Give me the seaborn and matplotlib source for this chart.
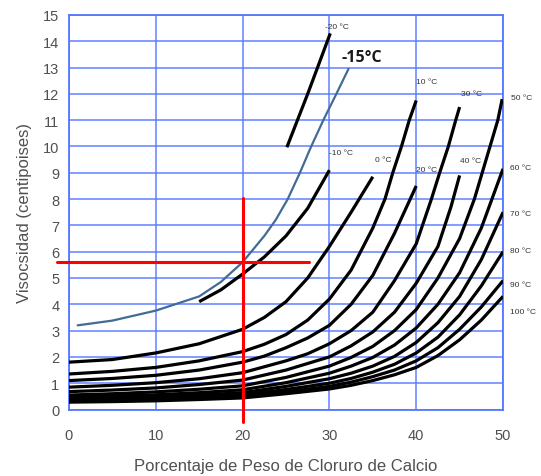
import pandas as pd
import seaborn as sns
import matplotlib.pyplot as plt
from matplotlib.ticker import MultipleLocator

# --- data (x = % CaCl2, y = viscosity cP) ---
x_m20 = [25.1, 27.5, 30.1]
y_m20 = [9.97, 12.0, 14.3]

x_m15 = [1, 5, 10, 15, 17.5, 20, 22.5, 23.8, 25.2, 26.6, 27.9, 29.3, 30.8, 32.2]
y_m15 = [3.2, 3.38, 3.76, 4.3, 4.85, 5.6, 6.6, 7.2, 8.0, 9.0, 10.0, 11.0, 12.0, 12.95]

x_m10 = [15, 17.5, 20, 22.5, 25, 27.5, 30]
y_m10 = [4.1, 4.55, 5.15, 5.8, 6.6, 7.65, 9.1]

x_0 = [0, 5, 10, 15, 20, 22.5, 25, 27.5, 30, 32.5, 35]
y_0 = [1.8, 1.9, 2.15, 2.5, 3.05, 3.5, 4.1, 5.0, 6.2, 7.5, 8.85]

x_10 = [0, 5, 10, 15, 20, 22.5, 25, 27.5, 30, 32.5, 35, 36.4, 37.3, 38.3, 39.2, 40]
y_10 = [1.35, 1.45, 1.6, 1.85, 2.2, 2.48, 2.85, 3.4, 4.2, 5.3, 6.9, 8.0, 9.0, 10.0, 11.0, 11.75]

x_20 = [0, 5, 10, 15, 20, 22.5, 25, 27.5, 30, 32.5, 35, 37.5, 40]
y_20 = [1.1, 1.18, 1.3, 1.5, 1.8, 2.03, 2.35, 2.72, 3.2, 4.0, 5.1, 6.7, 8.5]

x_30 = [0, 5, 10, 15, 20, 25, 27.5, 30, 32.5, 35, 37.5, 40, 41.75, 42.7, 43.7, 44.55, 45]
y_30 = [0.85, 0.92, 1.02, 1.17, 1.4, 1.85, 2.12, 2.5, 3.0, 3.7, 4.9, 6.3, 8.0, 9.0, 10.0, 11.0, 11.5]

x_40 = [0, 5, 10, 15, 20, 25, 30, 32.5, 35, 37.5, 40, 42.5, 44, 45]
y_40 = [0.68, 0.74, 0.82, 0.95, 1.12, 1.5, 2.0, 2.42, 2.95, 3.7, 4.8, 6.2, 7.7, 8.9]

x_50 = [0, 5, 10, 15, 20, 25, 30, 32.5, 35, 37.5, 40, 42.5, 45, 46.7, 47.6, 48.5, 49.4, 49.9]
y_50 = [0.55, 0.6, 0.67, 0.77, 0.9, 1.22, 1.65, 1.98, 2.4, 3.0, 3.8, 5.0, 6.5, 8.0, 9.0, 10.0, 11.0, 11.8]

# the hotter curves all run the full range 0-50 %
x_full = [0, 5, 10, 15, 20, 25, 30, 32.5, 35, 37.5, 40, 42.5, 45, 47.5, 50]
y_60 = [0.47, 0.51, 0.56, 0.64, 0.75, 1.02, 1.38, 1.65, 1.98, 2.45, 3.1, 4.0, 5.2, 6.9, 9.15]
y_70 = [0.40, 0.43, 0.48, 0.55, 0.64, 0.88, 1.17, 1.38, 1.65, 2.02, 2.55, 3.3, 4.3, 5.7, 7.5]
y_80 = [0.35, 0.38, 0.42, 0.48, 0.56, 0.76, 1.0, 1.18, 1.42, 1.72, 2.15, 2.75, 3.6, 4.7, 6.0]
y_90 = [0.31, 0.34, 0.37, 0.42, 0.49, 0.67, 0.88, 1.04, 1.25, 1.5, 1.85, 2.35, 3.05, 3.9, 4.9]
y_100 = [0.28, 0.3, 0.33, 0.38, 0.44, 0.6, 0.78, 0.92, 1.1, 1.32, 1.6, 2.05, 2.65, 3.4, 4.3]

black_curves = [
    ("-20 °C", x_m20, y_m20, (29.5, 14.57)),
    ("-10 °C", x_m10, y_m10, (30.0, 9.78)),
    ("0 °C", x_0, y_0, (35.3, 9.49)),
    ("10 °C", x_10, y_10, (40.0, 12.46)),
    ("20 °C", x_20, y_20, (40.0, 9.14)),
    ("30 °C", x_30, y_30, (45.2, 12.0)),
    ("40 °C", x_40, y_40, (45.1, 9.46)),
    ("50 °C", x_50, y_50, (50.9, 11.87)),
    ("60 °C", x_full, y_60, (50.85, 9.2)),
    ("70 °C", x_full, y_70, (50.85, 7.46)),
    ("80 °C", x_full, y_80, (50.85, 6.04)),
    ("90 °C", x_full, y_90, (50.85, 4.77)),
    ("100 °C", x_full, y_100, (50.85, 3.72)),
]

# reading for 20 % at -15 °C
read_x = 20
read_y = 5.6

grid_blue = "#5577ff"
text_gray = "#505050"

sns.set_style("white")
plt.rcParams['font.family'] = ['Liberation Sans', 'DejaVu Sans']

fig = plt.figure(figsize=(5.41, 4.77), dpi=100)
ax = fig.add_axes([0.1275, 0.1394, 0.8023, 0.8271])

rows = []
for name, xs, ys, _ in black_curves:
    for xv, yv in zip(xs, ys):
        rows.append({"curve": name, "x": xv, "y": yv})
df = pd.DataFrame(rows)

sns.lineplot(data=df, x="x", y="y", units="curve", estimator=None, sort=False,
             color="black", lw=2.3, ax=ax, solid_capstyle="butt", zorder=3)
sns.lineplot(x=x_m15, y=y_m15, color="#426b96", lw=1.6, ax=ax, sort=False, zorder=3)

for name, xs, ys, (tx, ty) in black_curves:
    ax.text(tx, ty, name, fontsize=6, color="#333333", va="center", ha="left",
            clip_on=False)
ax.text(31.4, 13.4, "-15°C", fontsize=11.5, fontweight="bold", color="#1a1a1a",
        va="center", ha="left", family=["Open Sans", "DejaVu Sans"])

# red reading lines
ax.plot([read_x, read_x], [-0.48, 8.04], color="red", lw=2.2, clip_on=False, zorder=4)
ax.plot([-1.4, 27.7], [read_y, read_y], color="red", lw=2.2, clip_on=False, zorder=4)

ax.set_xlim(0, 50)
ax.set_ylim(0, 15)
ax.xaxis.set_major_locator(MultipleLocator(10))
ax.yaxis.set_major_locator(MultipleLocator(1))
ax.grid(True, color=grid_blue, lw=1.2, alpha=0.85)
ax.set_axisbelow(True)
for sp in ax.spines.values():
    sp.set_color(grid_blue)
    sp.set_linewidth(1.3)
ax.tick_params(axis="both", colors=grid_blue, length=4, width=1.1, direction="out",
               labelsize=10.5, labelcolor=text_gray, pad=3)
ax.tick_params(axis="x", pad=9)

ax.set_xlabel("Porcentaje de Peso de Cloruro de Calcio", fontsize=12,
              color=text_gray, labelpad=12)
ax.set_ylabel("Visocsidad (centipoises)", fontsize=12, color=text_gray, labelpad=8)

fig.savefig("out.png", dpi=100)
